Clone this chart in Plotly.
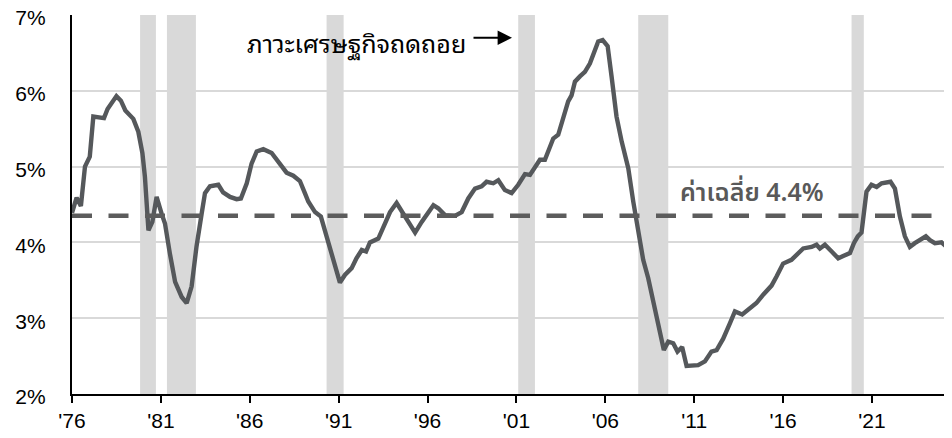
import plotly.graph_objects as go

# ---- data ----
years = [1976.0, 1976.26, 1976.5, 1976.73, 1977.0, 1977.2, 1977.8, 1978.0, 1978.5, 1978.75,
         1979.0, 1979.45, 1979.73, 1979.96, 1980.1, 1980.2, 1980.3, 1980.52, 1980.76, 1981.04,
         1981.23, 1981.5, 1981.8, 1982.17, 1982.45, 1982.73, 1983.0, 1983.3, 1983.48, 1983.76,
         1984.23, 1984.5, 1984.89, 1985.26, 1985.5, 1985.83, 1986.1, 1986.39, 1986.76, 1987.23,
         1987.7, 1988.07, 1988.45, 1988.82, 1989.1, 1989.29, 1989.67, 1990.0, 1990.32, 1990.7,
         1991.07, 1991.35, 1991.73, 1992.0, 1992.3, 1992.54, 1992.76, 1993.23, 1993.51, 1993.89,
         1994.26, 1994.63, 1995.0, 1995.3, 1995.67, 1995.95, 1996.33, 1996.6, 1996.98, 1997.54,
         1997.92, 1998.29, 1998.67, 1999.04, 1999.32, 1999.7, 1999.98, 2000.35, 2000.73, 2001.1,
         2001.48, 2001.76, 2002.04, 2002.32, 2002.6, 2002.88, 2003.07, 2003.35, 2003.63, 2003.91,
         2004.1, 2004.29, 2004.57, 2004.85, 2005.13, 2005.41, 2005.6, 2005.85, 2006.13, 2006.35,
         2006.63, 2006.92, 2007.29, 2007.57, 2007.85, 2008.13, 2008.41, 2008.69, 2008.98, 2009.16,
         2009.29, 2009.54, 2009.82, 2010.06, 2010.32, 2010.57, 2010.85, 2011.22, 2011.6, 2011.97,
         2012.26, 2012.63, 2013.0, 2013.29, 2013.7, 2014.13, 2014.5, 2014.88, 2015.35, 2015.63,
         2016.0, 2016.47, 2016.76, 2017.13, 2017.6, 2017.88, 2018.07, 2018.35, 2018.73, 2019.1,
         2019.38, 2019.76, 2019.98, 2020.2, 2020.41, 2020.69, 2020.97, 2021.26, 2021.54, 2021.82,
         2022.04, 2022.29, 2022.57, 2022.85, 2023.13, 2023.41, 2023.7, 2024.03, 2024.26, 2024.54,
         2024.91, 2025.2, 2025.48]
rate = [4.39, 4.59, 4.48, 5.0, 5.13, 5.66, 5.64, 5.76, 5.93, 5.87,
        5.74, 5.63, 5.46, 5.18, 4.87, 4.52, 4.16, 4.27, 4.6, 4.38,
        4.25, 3.86, 3.48, 3.28, 3.2, 3.42, 3.94, 4.39, 4.65, 4.74,
        4.76, 4.66, 4.6, 4.57, 4.58, 4.78, 5.04, 5.2, 5.23, 5.18,
        5.04, 4.92, 4.88, 4.81, 4.65, 4.54, 4.4, 4.34, 4.08, 3.77,
        3.47, 3.57, 3.66, 3.79, 3.9, 3.88, 4.0, 4.05, 4.21, 4.4,
        4.52, 4.38, 4.25, 4.13, 4.27, 4.36, 4.49, 4.45, 4.36, 4.35,
        4.4, 4.58, 4.71, 4.74, 4.8, 4.78, 4.82, 4.69, 4.65, 4.76,
        4.9, 4.89, 5.0, 5.09, 5.09, 5.26, 5.37, 5.42, 5.66, 5.86,
        5.94, 6.12, 6.19, 6.25, 6.36, 6.54, 6.65, 6.67, 6.59, 6.19,
        5.66, 5.33, 4.98, 4.54, 4.12, 3.77, 3.53, 3.24, 2.91, 2.71,
        2.58, 2.69, 2.67, 2.56, 2.62, 2.37, 2.38, 2.38, 2.43, 2.56,
        2.58, 2.73, 2.93, 3.09, 3.05, 3.13, 3.2, 3.31, 3.43, 3.55,
        3.72, 3.77, 3.83, 3.92, 3.94, 3.97, 3.92, 3.97, 3.88, 3.79,
        3.82, 3.86, 3.99, 4.08, 4.13, 4.67, 4.76, 4.73, 4.78, 4.79,
        4.8, 4.71, 4.34, 4.08, 3.94, 3.99, 4.03, 4.08, 4.03, 3.99,
        4.0, 3.94, 3.81]

avg_value = 4.35
avg_label = "ค่าเฉลี่ย 4.4%"
recession_label = "ภาวะเศรษฐกิจถดถอย"

rec_start = [1979.83, 1981.34, 1990.32, 2001.10, 2007.85, 2019.85]
rec_end = [1980.72, 1982.97, 1991.28, 2002.04, 2009.54, 2020.54]

tick_years = [1976, 1981, 1986, 1991, 1996, 2001, 2006, 2011, 2016, 2021]
tick_text = ["'76", "'81", "'86", "'91", "'96", "'01", "'06", "'11", "'16", "'21"]
y_ticks = [2, 3, 4, 5, 6, 7]
y_text = ["2%", "3%", "4%", "5%", "6%", "7%"]

x_min, x_max = 1976, 2025.5

fig = go.Figure()

fig.add_trace(go.Scatter(x=years, y=rate, mode="lines",
                         line=dict(color="#55585b", width=4.4),
                         hoverinfo="skip", showlegend=False))
fig.add_trace(go.Scatter(x=[x_min, x_max], y=[avg_value, avg_value], mode="lines",
                         line=dict(color="#5c5c5c", width=4.5, dash="20px,16.5px"),
                         hoverinfo="skip", showlegend=False))

shapes = []
for s, e in zip(rec_start, rec_end):
    shapes.append(dict(type="rect", xref="x", yref="paper", x0=s, x1=e, y0=0, y1=1,
                       fillcolor="#d9d9d9", line=dict(width=0), layer="below"))

thai_font = "Noto Sans Thai, Tahoma, Loma, Garuda, sans-serif"

annotations = [
    dict(x=1985.75, y=6.64, xref="x", yref="y", text=recession_label, showarrow=False,
         xanchor="left", yanchor="middle",
         font=dict(family="Noto Sans Thai Looped, Tlwg Typo, Loma, " + thai_font, size=25, color="#000000")),
    dict(x=2000.75, y=6.70, xref="x", yref="y", ax=-40, ay=0, axref="pixel", ayref="pixel",
         text="", showarrow=True, arrowhead=2, arrowsize=1.6, arrowwidth=1.8, arrowcolor="#000000"),
    dict(x=2010.1, y=4.65, xref="x", yref="y", text=avg_label, showarrow=False,
         xanchor="left", yanchor="middle",
         font=dict(family=thai_font, size=25, color="#595959", weight=600)),
]

# the page body adds an 8px offset, so the figure is sized to fill the rest of the window
fig.update_layout(
    width=944, height=430,
    margin=dict(l=64, r=0, t=7, b=44),
    paper_bgcolor="white", plot_bgcolor="white",
    shapes=shapes, annotations=annotations,
    font=dict(family="Liberation Sans, Arial, sans-serif", size=21, color="#000000"),
    xaxis=dict(range=[x_min, x_max], tickvals=tick_years, ticktext=tick_text,
               showgrid=False, zeroline=False, showline=True, linecolor="#000000", linewidth=2.2,
               ticks="outside", ticklen=7, tickwidth=2, tickcolor="#000000",
               tickfont=dict(size=21), automargin=False, ticklabeloverflow="allow"),
    yaxis=dict(range=[2, 7], tickvals=y_ticks, ticktext=y_text,
               showgrid=True, gridcolor="#d9d9d9", gridwidth=1.5, zeroline=False,
               showline=True, linecolor="#000000", linewidth=2.2, ticks="",
               ticklabelstandoff=20, ticklabelshift=3, tickfont=dict(size=21), automargin=False,
               ticklabeloverflow="allow"),
)

fig.write_html("out.html")
